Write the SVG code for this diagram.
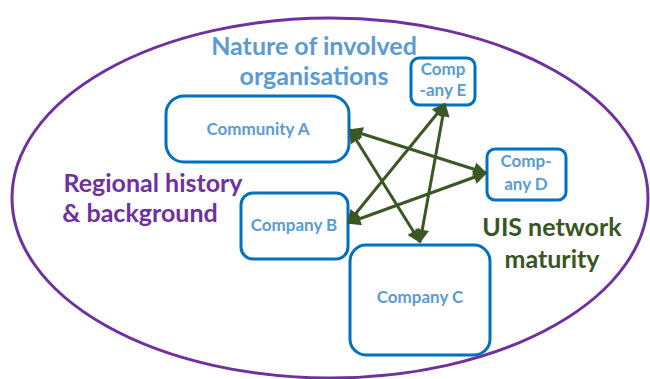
<svg xmlns="http://www.w3.org/2000/svg" width="650" height="379" viewBox="0 0 650 379">
<style>
.node{fill:#fff;stroke:#0070C0;stroke-width:3}
.nl{font-family:Lato,"Liberation Sans",sans-serif;font-weight:bold;font-size:17px;fill:#5B9BD5;text-anchor:middle}
.big{font-family:Lato,"Liberation Sans",sans-serif;font-weight:bold;font-size:25px;text-anchor:middle}
.arr{stroke:#3B5724;stroke-width:3;fill:none;marker-start:url(#ah);marker-end:url(#ah)}
</style>
<defs>
<marker id="ah" viewBox="0 0 10 10" refX="9" refY="5" markerWidth="5.3" markerHeight="4.6" orient="auto-start-reverse" markerUnits="strokeWidth">
<path d="M0,0 L10,5 L0,10 z" fill="#3B5724"/>
</marker>
</defs>
<rect width="650" height="379" fill="#fff"/>
<ellipse id="outer" cx="330" cy="198" rx="318" ry="180" fill="#fff" stroke="#7030A0" stroke-width="3"/>
<text class="big" x="314" y="55" fill="#5B9BD5">Nature of involved</text>
<text class="big" x="314" y="85" fill="#5B9BD5">organisations</text>
<text class="big" x="153" y="192" fill="#7030A0">Regional history</text>
<text class="big" x="140" y="222" fill="#7030A0">&amp; background</text>
<text class="big" x="552" y="236" fill="#375623">UIS network</text>
<text class="big" x="552" y="268" fill="#375623">maturity</text>
<g id="communityA"><rect class="node" x="166" y="96" width="183" height="66" rx="18"/><text class="nl" x="258" y="135">Community A</text></g>
<g id="companyE"><rect class="node" x="411" y="58" width="64" height="47" rx="8"/><text class="nl" x="443" y="75">Comp</text><text class="nl" x="443" y="96">-any E</text></g>
<g id="companyD"><rect class="node" x="487" y="149" width="79" height="51" rx="8"/><text class="nl" x="526" y="167">Comp-</text><text class="nl" x="526" y="190">any D</text></g>
<g id="companyB"><rect class="node" x="241" y="193" width="107" height="66" rx="12"/><text class="nl" x="294" y="231">Company B</text></g>
<g id="companyC"><rect class="node" x="350" y="245" width="140" height="110" rx="16"/><text class="nl" x="420" y="303">Company C</text></g>
<g id="connectors">
<line class="arr" x1="350" y1="130" x2="486" y2="173"/>
<line class="arr" x1="350" y1="130" x2="420" y2="242"/>
<line class="arr" x1="348" y1="223" x2="445" y2="104"/>
<line class="arr" x1="348" y1="223" x2="486" y2="173"/>
<line class="arr" x1="445" y1="104" x2="420" y2="242"/>
</g>
</svg>
